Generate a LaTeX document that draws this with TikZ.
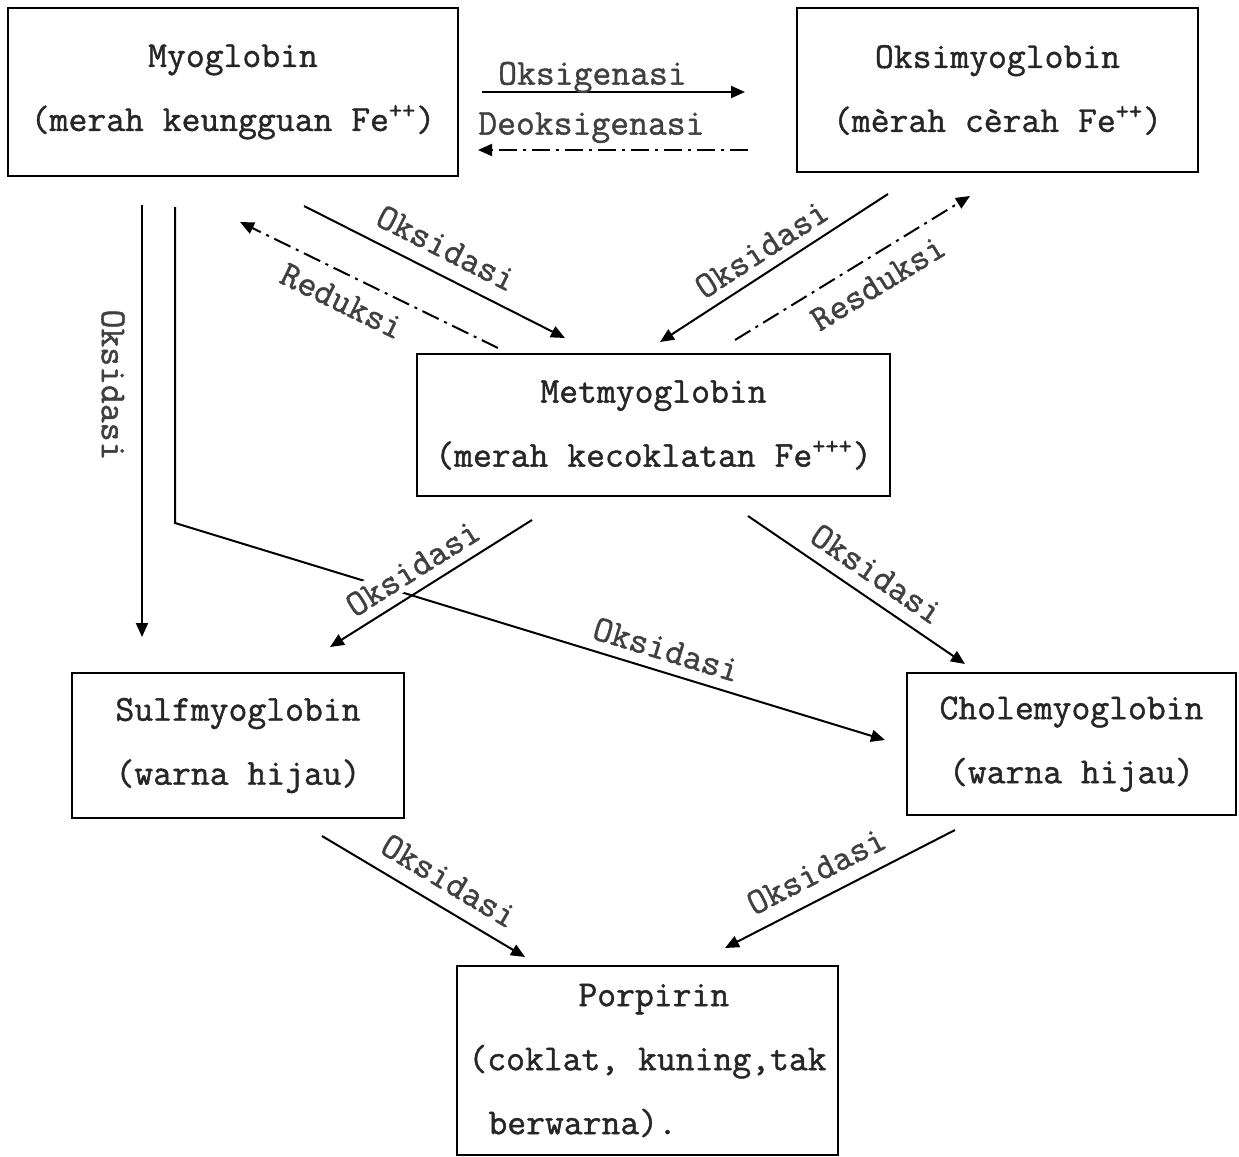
\documentclass[tikz,border=0pt]{standalone}
\usepackage{fontspec}
\setmonofont[FakeBold=1.2]{Latin Modern Mono}
\usetikzlibrary{arrows.meta}
\tikzset{
  box/.style={draw, line width=1pt, inner sep=0pt, outer sep=0pt, align=center,
    text=black!85, font=\ttfamily\bfseries\fontsize{18.3}{32}\selectfont},
  arr/.style={line width=1pt, -{Triangle[length=7pt,width=6pt]}},
  dashdot/.style={dash pattern=on 9pt off 3pt on 1.5pt off 3pt},
  lbl/.style={text=black!75, inner sep=2pt, font=\ttfamily\bfseries\fontsize{18.3}{19}\selectfont}
}
\begin{document}
\begin{tikzpicture}[x=0.5pt, y=0.5pt]
    \useasboundingbox (0,0) rectangle (1239,-1157);
    % boxes
    \node[box, minimum width=225pt, minimum height=84pt] (myo) at (233,-92) {Myoglobin\\(merah keungguan Fe\textsuperscript{++})};
    \node[box, minimum width=200.5pt, minimum height=82pt] (oksi) at (997.5,-90) {Oksimyoglobin\\(mèrah cèrah Fe\textsuperscript{++})};
    \node[box, minimum width=236.5pt, minimum height=71pt] (met) at (653.5,-425) {Metmyoglobin\\(merah kecoklatan Fe\textsuperscript{+++})};
    \node[box, minimum width=166pt, minimum height=72.5pt] (sulf) at (238,-745.5) {Sulfmyoglobin\\(warna hijau)};
    \node[box, minimum width=164.5pt, minimum height=71pt] (chole) at (1071.5,-744) {Cholemyoglobin\\(warna hijau)};
    \node[box, align=left, minimum width=190.5pt, minimum height=94.5pt] (porp) at (647.5,-1060.5) {\hspace*{55pt}Porpirin\\(coklat, kuning,tak\\\hspace*{10pt}berwarna).};

    % free ends of the connectors
    \coordinate (oksA) at (482,-92);   \coordinate (oksB) at (745,-92);
    \coordinate (deoA) at (748,-150);  \coordinate (deoB) at (478,-150);
    \coordinate (myoA) at (304,-206);  \coordinate (metA) at (565,-338);
    \coordinate (metB) at (498,-348);  \coordinate (myoB) at (240,-222);
    \coordinate (oksiA) at (888,-194); \coordinate (metC) at (660,-342);
    \coordinate (metD) at (735,-340);  \coordinate (oksiB) at (970,-196);
    \coordinate (myoC) at (142,-205);  \coordinate (sulfA) at (142,-637);
    \coordinate (myoD) at (175,-207);  \coordinate (bend) at (175,-523);
    \coordinate (choleA) at (885,-740);
    \coordinate (metE) at (532,-520);  \coordinate (sulfB) at (330,-647);
    \coordinate (metF) at (748,-516);  \coordinate (choleB) at (965,-664);
    \coordinate (sulfC) at (322,-836); \coordinate (porpA) at (525,-957);
    \coordinate (choleC) at (955,-830); \coordinate (porpB) at (725,-948);

    % top row
    \draw[arr] (oksA) -- node[lbl, pos=0.42, above=-3pt] {Oksigenasi} (oksB);
    \draw[arr, dashdot] (deoA) -- node[lbl, pos=0.58, above=1pt] {Deoksigenasi} (deoB);
    % to and from metmyoglobin
    \draw[arr] (myoA) -- node[lbl, sloped, pos=0.5, above=5pt] {Oksidasi} (metA);
    \draw[arr, dashdot] (metB) -- node[lbl, sloped, pos=0.56, below=5pt] {Reduksi} (myoB);
    \draw[arr] (oksiA) -- node[lbl, sloped, pos=0.5, above=3pt] {Oksidasi} (metC);
    \draw[arr, dashdot] (metD) -- node[lbl, sloped, pos=0.55, below=5pt] {Resduksi} (oksiB);
    % left side
    \draw[arr] (myoC) -- (sulfA);
    \node[lbl, rotate=-90] (oksV) at (113,-385) {Oksidasi};
    \draw[arr] (myoD) -- (bend) -- node[lbl, sloped, pos=0.683, above=3pt] {Oksidasi} (choleA);
    % lower branches
    \draw[arr] (metE) -- node[lbl, sloped, pos=0.53, above=3pt, fill=white] {Oksidasi} (sulfB);
    \draw[arr] (metF) -- node[lbl, sloped, pos=0.53, above=4pt] {Oksidasi} (choleB);
    \draw[arr] (sulfC) -- node[lbl, sloped, pos=0.56, above=5pt] {Oksidasi} (porpA);
    \draw[arr] (choleC) -- node[lbl, sloped, pos=0.55, above=5pt] {Oksidasi} (porpB);
\end{tikzpicture}
\end{document}
